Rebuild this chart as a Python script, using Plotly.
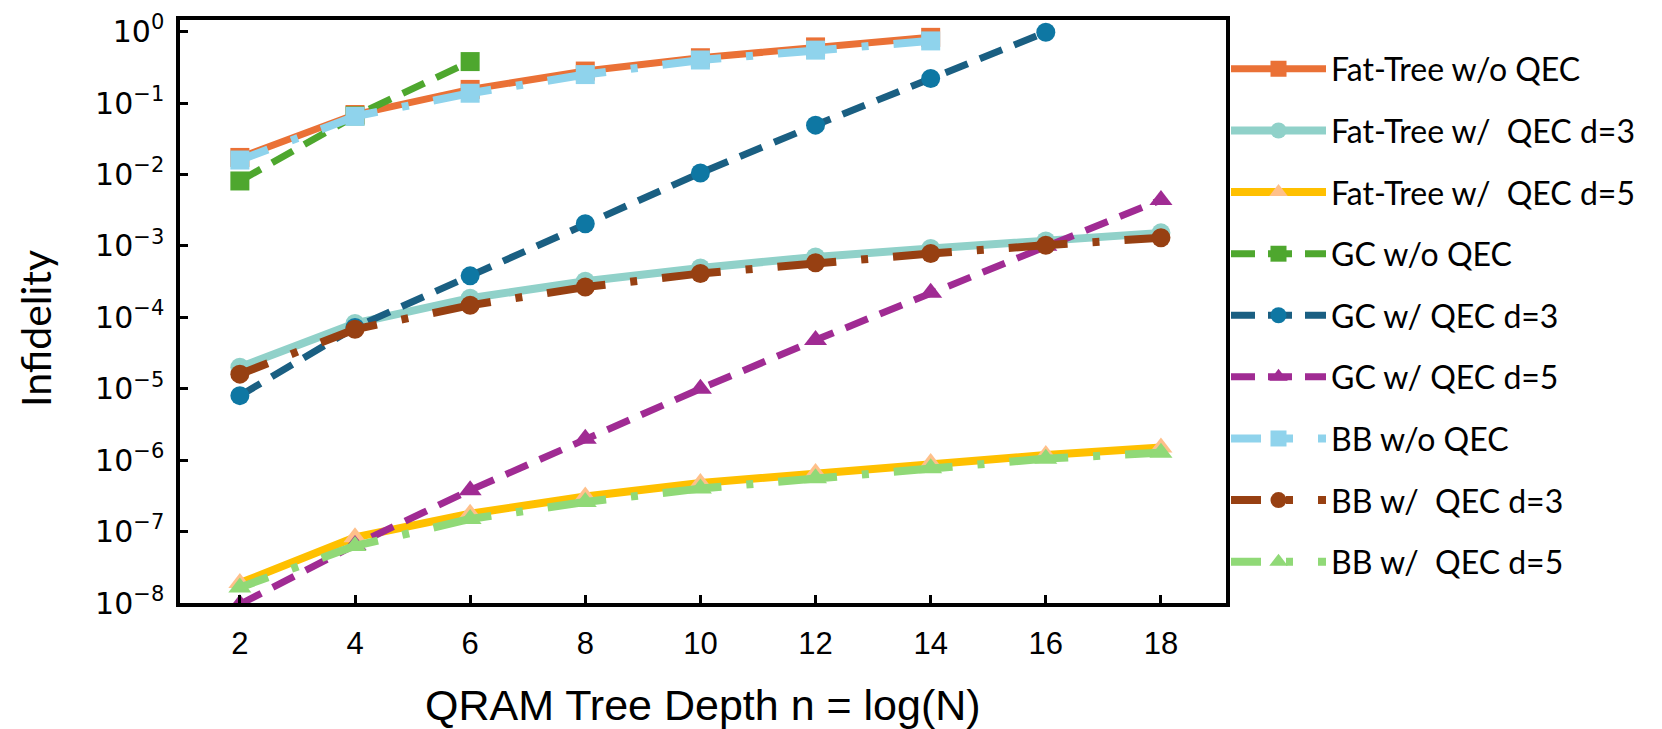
import plotly.graph_objects as go

# ---------------- data ----------------
depth = [2, 4, 6, 8, 10, 12, 14, 16, 18]
depth_to14 = [2, 4, 6, 8, 10, 12, 14]
depth_to6 = [2, 4, 6]
depth_to16 = [2, 4, 6, 8, 10, 12, 14, 16]

ft_noqec = [0.0173, 0.069, 0.155, 0.28, 0.43, 0.61, 0.83]
ft_d3 = [2.0e-5, 8.2e-5, 1.85e-4, 3.2e-4, 4.9e-4, 7.0e-4, 9.2e-4, 1.17e-3, 1.52e-3]
ft_d5 = [1.9e-8, 8.3e-8, 1.78e-7, 3.1e-7, 4.8e-7, 6.6e-7, 9.1e-7, 1.18e-6, 1.5e-6]
gc_noqec = [8.1e-3, 0.066, 0.38]
gc_d3 = [8.0e-6, 7.2e-5, 3.8e-4, 2.04e-3, 0.0105, 0.049, 0.22, 0.98]
gc_d5 = [9.6e-9, 6.5e-8, 3.8e-7, 2.0e-6, 1.0e-5, 4.8e-5, 2.2e-4, 1.0e-3, 4.4e-3]
bb_noqec = [0.0159, 0.065, 0.137, 0.25, 0.40, 0.55, 0.74]
bb_d3 = [1.6e-5, 6.8e-5, 1.47e-4, 2.65e-4, 4.1e-4, 5.8e-4, 7.8e-4, 1.02e-3, 1.3e-3]
bb_d5 = [1.65e-8, 6.3e-8, 1.5e-7, 2.6e-7, 4.0e-7, 5.6e-7, 7.7e-7, 1.05e-6, 1.27e-6]

x_ticks = [2, 4, 6, 8, 10, 12, 14, 16, 18]
y_exponents = [0, -1, -2, -3, -4, -5, -6, -7, -8]

# ---------------- styling ----------------
BB_DASH = "30px,25px,7px,25px,29px,0px"
GC_DASH = "24px,13px"

series = [
    ("Fat-Tree w/o QEC", depth_to14, ft_noqec, "#EA7136", "#EA7136", "square", "solid", 7),
    ("Fat-Tree w/  QEC d=3", depth, ft_d3, "#90D1C9", "#90D1C9", "circle", "solid", 8),
    ("Fat-Tree w/  QEC d=5", depth, ft_d5, "#FFC000", "#FFC08A", "triangle-up", "solid", 8),
    ("GC w/o QEC", depth_to6, gc_noqec, "#4EA72E", "#4EA72E", "square", GC_DASH, 7),
    ("GC w/ QEC d=3", depth_to16, gc_d3, "#1A5F82", "#0E77A3", "circle", GC_DASH, 7),
    ("GC w/ QEC d=5", depth, gc_d5, "#A02B93", "#A02B93", "triangle-up", GC_DASH, 7),
    ("BB w/o QEC", depth_to14, bb_noqec, "#8FD3EC", "#8FD3EC", "square", BB_DASH, 8),
    ("BB w/  QEC d=3", depth, bb_d3, "#974012", "#974012", "circle", BB_DASH, 8),
    ("BB w/  QEC d=5", depth, bb_d5, "#90D977", "#90D977", "triangle-up", BB_DASH, 8),
]

fig = go.Figure()
for i, (name, xs, ys, lc, mc, sym, dash, lw) in enumerate(series):
    fig.add_trace(go.Scatter(
        x=xs, y=ys, name=name, mode="lines+markers",
        legendgroup=f"g{i}",
        line=dict(color=lc, width=lw, dash=dash),
        marker=dict(color=mc, symbol=sym, size=20 if "triangle" in sym else 19,
                    line=dict(width=0)),
    ))

L, R, T, B = 172, 444, 12, 134
fig.update_layout(
    width=1662, height=729,
    margin=dict(l=L, r=R, t=T, b=B, autoexpand=False),
    paper_bgcolor="white", plot_bgcolor="white",
    showlegend=True,
    legend=dict(
        x=1.0, xanchor="left", y=0.963, yanchor="top",
        font=dict(family="Lato, Open Sans, sans-serif", size=32, color="black"),
        tracegroupgap=17, itemwidth=95, bgcolor="rgba(0,0,0,0)",
    ),
    xaxis=dict(
        range=[0.96, 19.13], tickmode="array", tickvals=x_ticks,
        ticktext=[str(v) for v in x_ticks],
        ticks="inside", ticklen=8, tickwidth=2.5, tickcolor="black",
        showline=True, linecolor="black", linewidth=3.5, mirror=True,
        showgrid=False, zeroline=False,
        tickfont=dict(family="Liberation Sans Narrow, Arial Narrow, sans-serif", size=31, color="black"),
        ticklabelstandoff=10, ticklabeloverflow="allow",
    ),
    yaxis=dict(
        type="log", range=[-8, 0.162], tickmode="array",
        tickvals=[10.0 ** e for e in y_exponents],
        ticktext=[f"10<sup>{'−' if e < 0 else ''}{abs(e)}</sup>" for e in y_exponents],
        ticks="inside", ticklen=8, tickwidth=2.5, tickcolor="black",
        showline=True, linecolor="black", linewidth=3.5, mirror=True,
        showgrid=False, zeroline=False,
        tickfont=dict(family="DejaVu Sans, sans-serif", size=30, color="black"),
        ticklabelstandoff=6, ticklabeloverflow="allow",
    ),
    annotations=[
        dict(text="Infidelity", xref="paper", yref="paper", x=-0.163, y=0.47,
             textangle=-90, showarrow=False,
             font=dict(family="Lato, Open Sans, sans-serif", size=41, color="black")),
        dict(text="QRAM Tree Depth n = log(N)", xref="paper", yref="paper", x=0.5, y=-0.175,
             xanchor="center", yanchor="middle", showarrow=False,
             font=dict(family="Liberation Sans Narrow, Arial Narrow, sans-serif", size=43, color="black")),
    ],
)

fig.write_html("out.html")
